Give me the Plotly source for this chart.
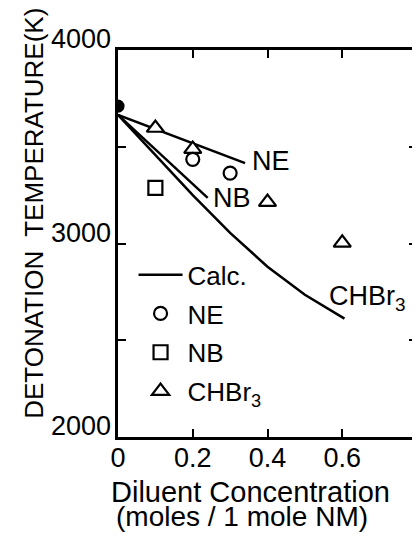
import plotly.graph_objects as go

# ---- data ----
calc_ne_x = [0.0, 0.1, 0.2, 0.3, 0.34]
calc_ne_t = [3665, 3592, 3518, 3445, 3415]

calc_nb_x = [0.0, 0.1, 0.2, 0.24]
calc_nb_t = [3665, 3486, 3308, 3236]

calc_chbr3_x = [0.0, 0.1, 0.2, 0.3, 0.4, 0.5, 0.6, 0.606]
calc_chbr3_t = [3665, 3455, 3250, 3055, 2880, 2735, 2620, 2612]

nm_x = [0.0]
nm_t = [3710]

ne_x = [0.2, 0.3]
ne_t = [3435, 3364]

nb_x = [0.1]
nb_t = [3287]

chbr3_x = [0.1, 0.2, 0.4, 0.6]
chbr3_t = [3597, 3488, 3214, 3003]

x_tickvals = [0, 0.2, 0.4, 0.6]
x_ticktext = ["0", "0.2", "0.4", "0.6"]
y_tickvals = [2000, 3000, 4000]
y_ticktext = ["2000", "3000", "4000"]
y_minor_vals = [2500, 3500]

FONT = "Liberation Sans, Arial, sans-serif"
BLK = "black"

# page has an 8px body margin; plot area wanted at page px x 118..420, y 50..437
OFF = 8
PL, PR, PT, PB = 118, 420, 50, 437
W, H = 420 - OFF, 542 - OFF
ml, mt = PL - OFF, PT - OFF
mr = (W + OFF) - PR
mb = H - mt - (PB - PT)
pw, ph = PR - PL, PB - PT


def px_to_paper(px, py):
    return (px - PL) / pw, (PB - py) / ph


fig = go.Figure()

line_style = dict(color=BLK, width=2.5)
fig.add_trace(go.Scatter(x=calc_ne_x, y=calc_ne_t, mode="lines", line=line_style,
                         name="Calc.", legendrank=1, legendgroup="a"))
fig.add_trace(go.Scatter(x=calc_nb_x, y=calc_nb_t, mode="lines", line=line_style,
                         name="Calc. NB", showlegend=False))
fig.add_trace(go.Scatter(x=calc_chbr3_x, y=calc_chbr3_t, mode="lines", line=line_style,
                         name="Calc. CHBr3", showlegend=False))

mk_line = dict(color=BLK, width=2.2)
fig.add_trace(go.Scatter(x=chbr3_x, y=chbr3_t, mode="markers", name="CHBr<sub>3</sub>",
                         legendrank=4, legendgroup="d",
                         marker=dict(symbol="triangle-up", size=15, color="white", line=mk_line)))
fig.add_trace(go.Scatter(x=ne_x, y=ne_t, mode="markers", name="NE", legendrank=2, legendgroup="b",
                         marker=dict(symbol="circle", size=13, color="white", line=mk_line)))
fig.add_trace(go.Scatter(x=nb_x, y=nb_t, mode="markers", name="NB", legendrank=3, legendgroup="c",
                         marker=dict(symbol="square", size=14, color="white", line=mk_line)))
fig.add_trace(go.Scatter(x=nm_x, y=nm_t, mode="markers", name="NM", showlegend=False,
                         marker=dict(symbol="circle", size=11, color=BLK, line=mk_line)))

ann_font = dict(family=FONT, size=27, color=BLK)
fig.add_annotation(x=0.352, y=3426, text="NE", showarrow=False, xanchor="left",
                   yanchor="middle", font=ann_font)
fig.add_annotation(x=0.248, y=3235, text="NB", showarrow=False, xanchor="left",
                   yanchor="middle", font=ann_font)
fig.add_annotation(x=0.56, y=2720, text="CHBr<sub>3</sub>", showarrow=False, xanchor="left",
                   yanchor="middle", font=ann_font)

# y tick labels sit slightly above their ticks in the original
for v, t in zip(y_tickvals, y_ticktext):
    fig.add_annotation(x=0, xref="paper", y=v, yref="y", text=t, showarrow=False,
                       xanchor="right", yanchor="middle", xshift=-5, yshift=11,
                       font=dict(family=FONT, size=27, color=BLK))

# axis titles (placed by page-pixel position)
title_specs = [
    ("Diluent Concentration", 252, 492, 0, 29),
    ("(moles / 1 mole NM)", 243, 516, 0, 28),
    ("DETONATION  TEMPERATURE(K)", 33, 213, -90, 26),
]
for txt, px, py, ang, fs in title_specs:
    xp, yp = px_to_paper(px, py)
    fig.add_annotation(x=xp, y=yp, xref="paper", yref="paper", text=txt, textangle=ang,
                       xanchor="center", yanchor="middle", showarrow=False,
                       font=dict(family=FONT, size=fs, color=BLK))

fig.update_xaxes(range=[0, 0.8], tickvals=x_tickvals, ticktext=x_ticktext,
                 showline=True, linecolor=BLK, linewidth=2.5, mirror="ticks",
                 ticks="inside", ticklen=8, tickwidth=2, tickcolor=BLK,
                 showgrid=False, zeroline=False, ticklabelstandoff=-5,
                 tickfont=dict(family=FONT, size=27, color=BLK))
fig.update_yaxes(range=[2000, 4000], tickvals=y_tickvals, showticklabels=False,
                 minor=dict(tickvals=y_minor_vals, ticks="inside", ticklen=8, tickwidth=2,
                            tickcolor=BLK, showgrid=False),
                 showline=True, linecolor=BLK, linewidth=2.5, mirror="ticks",
                 ticks="inside", ticklen=8, tickwidth=2, tickcolor=BLK,
                 showgrid=False, zeroline=False)

fig.update_layout(
    width=W, height=H, autosize=False,
    margin=dict(l=ml, r=mr, t=mt, b=mb, pad=0),
    paper_bgcolor="white", plot_bgcolor="white",
    showlegend=True,
    legend=dict(x=0.052, y=0.48, xanchor="left", yanchor="top", bgcolor="rgba(0,0,0,0)",
                font=dict(family=FONT, size=26, color=BLK), traceorder="grouped",
                tracegroupgap=2, itemwidth=44),
    font=dict(family=FONT, color=BLK),
)

fig.write_html("out.html")
